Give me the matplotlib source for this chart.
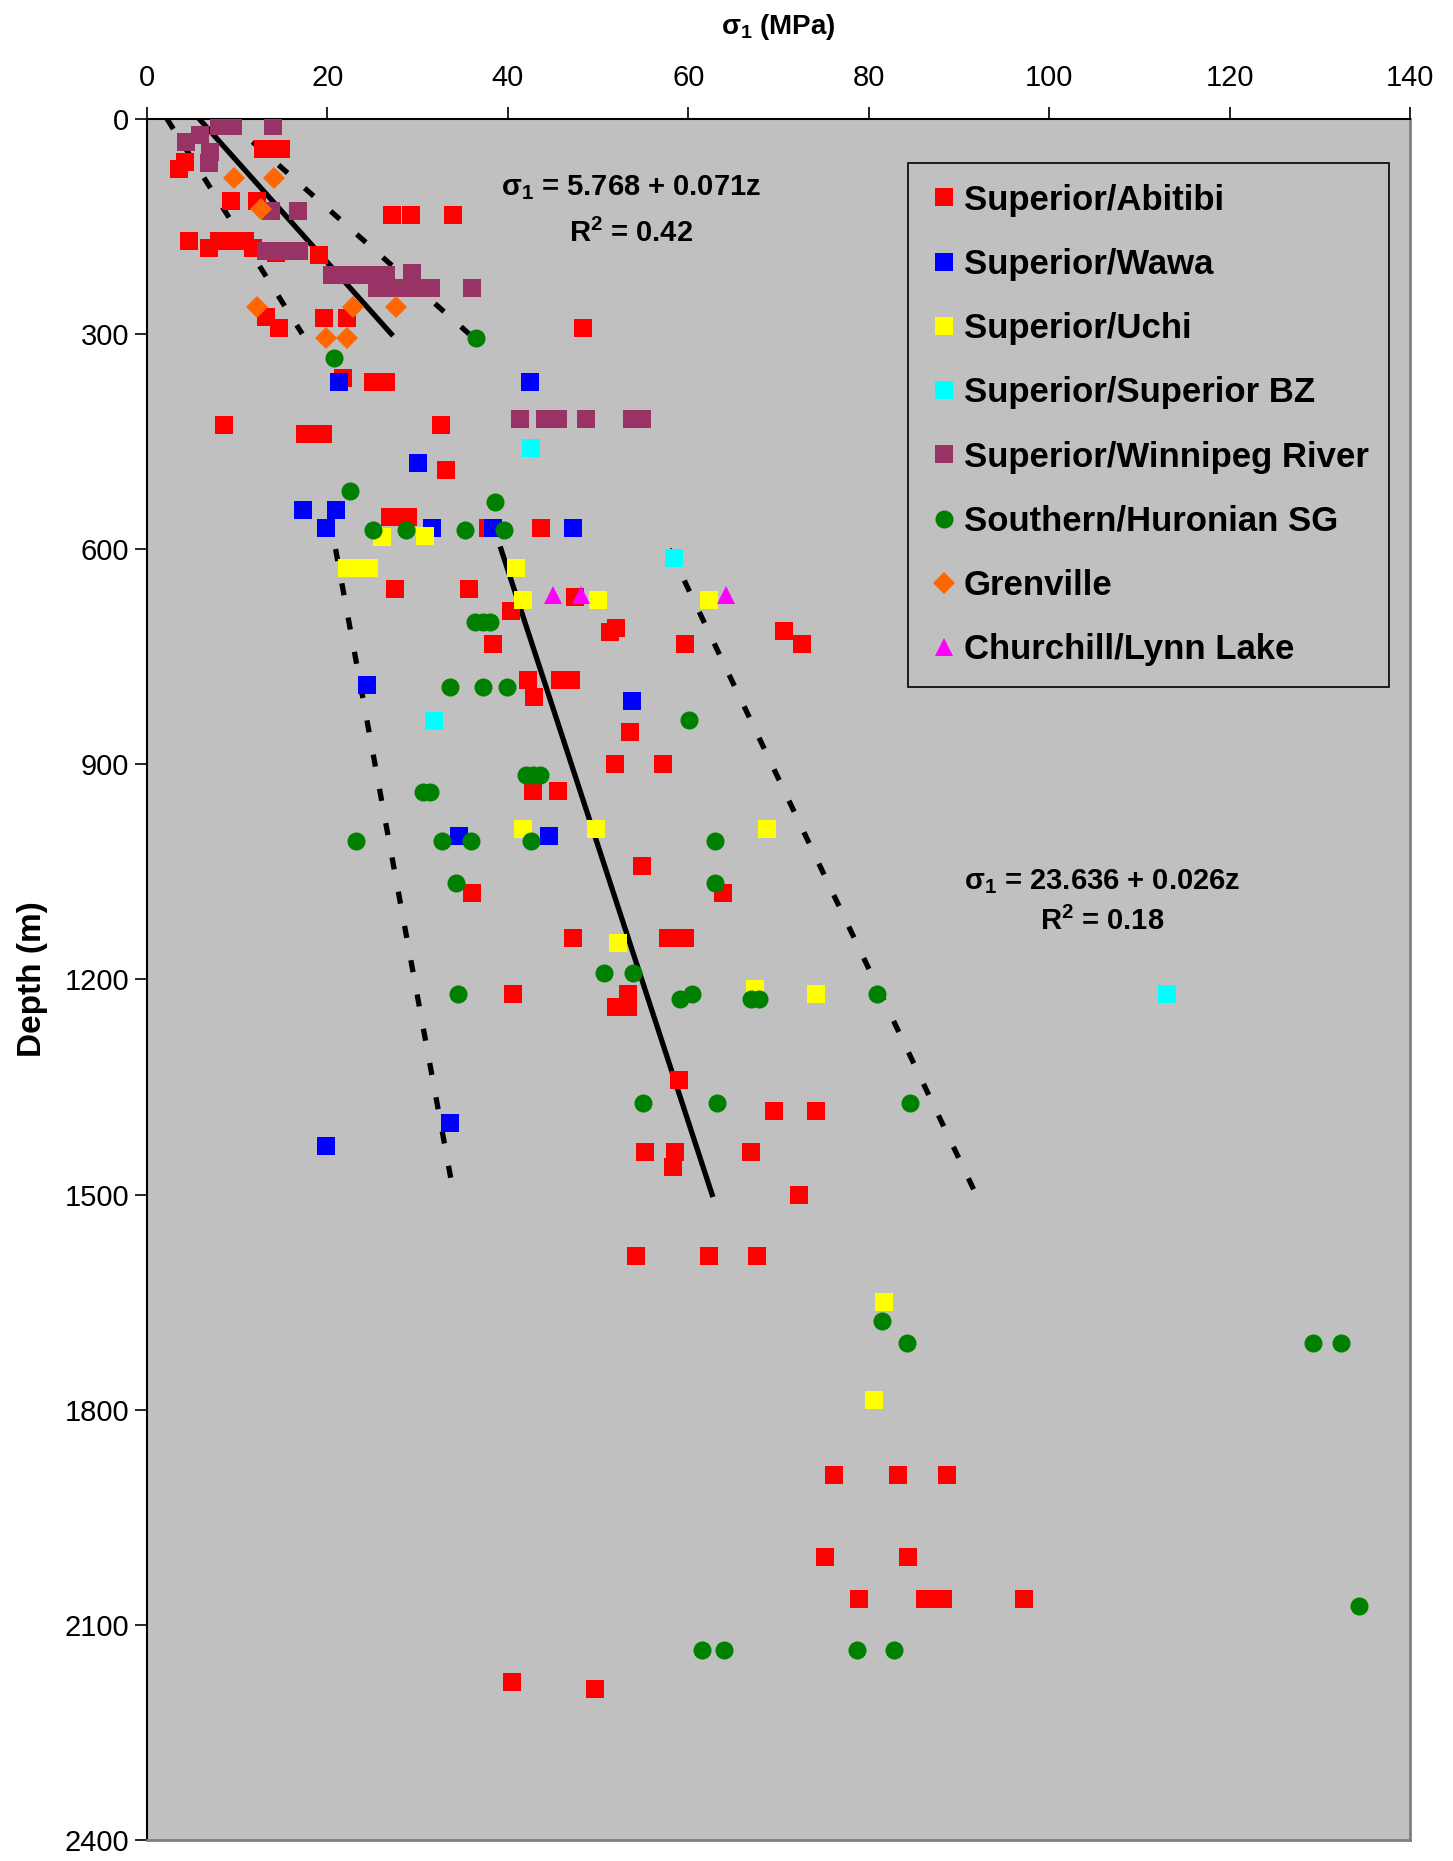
import numpy as np
import matplotlib.pyplot as plt

plt.rcParams['font.family'] = ['Liberation Sans', 'DejaVu Sans']
plt.rcParams['mathtext.default'] = 'regular'

# --- data: (sigma1 MPa, depth m) ---
abitibi_s = [12.8, 14.8, 3.5, 4.2, 9.3, 12.2, 27.2, 29.3, 33.9,
             4.6, 8.0, 9.4, 10.9, 6.9, 11.7, 14.3, 19.1,
             13.2, 14.6, 19.6, 22.2, 48.3, 21.7, 25.0, 26.5,
             8.5, 17.5, 19.5, 32.6, 33.1, 26.9, 28.9, 37.8, 43.7,
             27.5, 35.7, 40.4, 47.4, 51.3, 52.0, 59.6, 70.6, 72.6, 38.3,
             42.2, 45.8, 47.0, 42.9, 53.5, 51.9, 57.2, 42.8, 45.5,
             54.9, 36.0, 63.8, 47.2, 57.7, 58.7, 59.6,
             40.6, 53.3, 52.0, 53.3, 59.0, 69.5, 74.2,
             55.2, 58.5, 58.3, 67.0, 72.3, 54.2, 62.3, 67.6,
             76.1, 83.3, 88.7, 75.1, 84.3, 78.9, 86.2, 88.2, 97.2,
             40.5, 49.7]
abitibi_z = [42, 42, 70, 60, 115, 115, 134, 134, 134,
             171, 171, 171, 171, 180, 180, 187, 190,
             276, 292, 278, 278, 292, 362, 367, 367,
             427, 439, 439, 427, 490, 556, 556, 571, 571,
             656, 656, 686, 667, 716, 710, 733, 714, 733, 733,
             782, 782, 782, 807, 855, 900, 900, 937, 937,
             1042, 1079, 1079, 1143, 1143, 1143, 1143,
             1220, 1220, 1238, 1238, 1341, 1383, 1383,
             1441, 1441, 1462, 1441, 1501, 1586, 1586, 1586,
             1891, 1891, 1891, 2005, 2005, 2064, 2064, 2064, 2064,
             2180, 2190]

wawa_s = [21.3, 42.5, 30.0, 17.3, 20.9, 19.8, 31.6, 38.3, 47.2, 24.4, 53.8, 34.6, 44.6, 33.6, 19.8]
wawa_z = [367, 367, 480, 546, 546, 571, 571, 571, 571, 790, 812, 1000, 1000, 1400, 1432]

uchi_s = [26.1, 30.8, 22.2, 23.4, 24.6, 40.9, 41.7, 50.0, 62.3, 41.7, 49.8, 68.7, 52.2, 67.4, 74.2, 81.7, 80.6]
uchi_z = [583, 582, 627, 627, 627, 627, 671, 671, 671, 990, 990, 990, 1149, 1214, 1220, 1650, 1786]

bz_s = [42.6, 58.4, 31.8, 113.1]
bz_z = [459, 612, 840, 1220]

winnipeg_s = [8.0, 9.5, 14.0, 4.3, 5.9, 7.0, 6.9, 13.7, 16.7, 13.2, 15.0, 16.8,
              20.5, 22.0, 23.5, 25.0, 26.5, 29.4, 25.5, 27.0, 28.5, 30.0, 31.5, 36.0,
              41.3, 44.1, 45.6, 48.7, 53.8, 54.9]
winnipeg_z = [10, 10, 10, 32, 22, 46, 62, 129, 129, 185, 185, 185,
              218, 218, 218, 218, 218, 215, 236, 236, 236, 236, 236, 236,
              418, 418, 418, 418, 418, 418]

huronian_s = [36.5, 20.7, 22.5, 38.6, 25.1, 28.7, 35.2, 39.6, 36.4, 37.2, 38.0,
              33.6, 37.2, 39.9, 60.1, 42.0, 42.8, 43.6, 30.6, 31.4,
              23.2, 32.7, 35.9, 42.6, 63.0, 34.3, 63.0, 50.6, 53.9, 34.5,
              59.1, 60.4, 66.9, 67.8, 80.9, 55.0, 63.2, 84.6, 81.5, 84.2,
              129.3, 132.3, 134.3, 61.5, 64.0, 78.7, 82.8]
huronian_z = [306, 334, 519, 534, 573, 573, 573, 573, 702, 702, 702,
              793, 793, 793, 839, 915, 915, 915, 939, 939,
              1007, 1007, 1007, 1007, 1007, 1066, 1066, 1191, 1191, 1220,
              1227, 1220, 1228, 1228, 1220, 1372, 1372, 1372, 1677, 1707,
              1707, 1707, 2074, 2135, 2135, 2135, 2135]

grenville_s = [9.6, 14.1, 12.6, 12.2, 22.8, 27.6, 19.8, 22.2]
grenville_z = [83, 83, 126, 262, 262, 262, 306, 306]

churchill_s = [45.0, 48.1, 64.2]
churchill_z = [664, 664, 664]

# regression fits and bounding lines
fit_shallow = (5.768, 0.071, 0, 300)
fit_deep = (23.636, 0.026, 600, 1500)
bound_lines = [([2.2, 17.2], [0, 300]), ([8.8, 35.7], [0, 300]),
               ([20.9, 34.0], [600, 1500]), ([57.9, 91.9], [600, 1500])]

series = [
    ('Superior/Abitibi', abitibi_s, abitibi_z, 's', '#FF0000', 13.5),
    ('Superior/Wawa', wawa_s, wawa_z, 's', '#0000FF', 13.5),
    ('Superior/Uchi', uchi_s, uchi_z, 's', '#FFFF00', 13.5),
    ('Superior/Superior BZ', bz_s, bz_z, 's', '#00FFFF', 13.5),
    ('Superior/Winnipeg River', winnipeg_s, winnipeg_z, 's', '#993366', 13.5),
    ('Southern/Huronian SG', huronian_s, huronian_z, 'o', '#008000', 13),
    ('Grenville', grenville_s, grenville_z, 'D', '#FF6600', 11),
    ('Churchill/Lynn Lake', churchill_s, churchill_z, '^', '#FF00FF', 13.5),
]

fig = plt.figure(figsize=(14.53, 18.61), dpi=100, facecolor='white')
ax = fig.add_axes([0.1012, 0.0113, 0.8692, 0.9249])
ax.set_facecolor('#C0C0C0')

for a, b, z0, z1 in (fit_shallow, fit_deep):
    z = np.array([z0, z1])
    ax.plot(a + b * z, z, color='black', lw=3.8, zorder=2)
for xs, zs in bound_lines:
    ax.plot(xs, zs, color='black', lw=3.8, linestyle=(0, (2.3, 4.3)), zorder=2)

for name, xs, zs, mk, col, ms in series:
    ax.plot(xs, zs, linestyle='none', marker=mk, color=col, markersize=ms,
            markeredgewidth=0, label=name, zorder=3)

ax.set_xlim(0, 140)
ax.set_ylim(2400, 0)
ax.set_xticks(np.arange(0, 141, 20))
ax.set_yticks(np.arange(0, 2401, 300))
ax.xaxis.tick_top()
ax.xaxis.set_label_position('top')
ax.tick_params(direction='out', length=9, width=1.2, labelsize=21)
ax.tick_params(axis='x', pad=10)
ax.tick_params(axis='y', pad=4)
ax.set_xlabel('σ$_1$ (MPa)', fontsize=20, fontweight='bold', labelpad=22)
ax.set_ylabel('Depth (m)', fontsize=24, fontweight='bold', labelpad=12)

for side in ('top', 'left'):
    ax.spines[side].set_color('black')
    ax.spines[side].set_linewidth(1.5)
for side in ('right', 'bottom'):
    ax.spines[side].set_color('#808080')
    ax.spines[side].set_linewidth(2)

ax.text(53.7, 96, 'σ$_1$ = 5.768 + 0.071z', fontsize=21, fontweight='bold',
        ha='center', va='center')
ax.text(53.7, 160, 'R$^2$ = 0.42', fontsize=21, fontweight='bold', ha='center', va='center')
ax.text(105.9, 1064, 'σ$_1$ = 23.636 + 0.026z', fontsize=21, fontweight='bold',
        ha='center', va='center')
ax.text(105.9, 1119, 'R$^2$ = 0.18', fontsize=21, fontweight='bold', ha='center', va='center')

leg = ax.legend(loc='upper left', bbox_to_anchor=(0.6025, 0.9744),
                prop={'size': 25, 'weight': 'bold'},
                frameon=True, fancybox=False, facecolor='#C0C0C0', edgecolor='black',
                framealpha=1, numpoints=1, handlelength=0.9, handletextpad=0.1,
                labelspacing=0.9, borderpad=0.6, borderaxespad=0)
leg.get_frame().set_linewidth(1.2)

fig.savefig('out.png', dpi=100, facecolor='white')
